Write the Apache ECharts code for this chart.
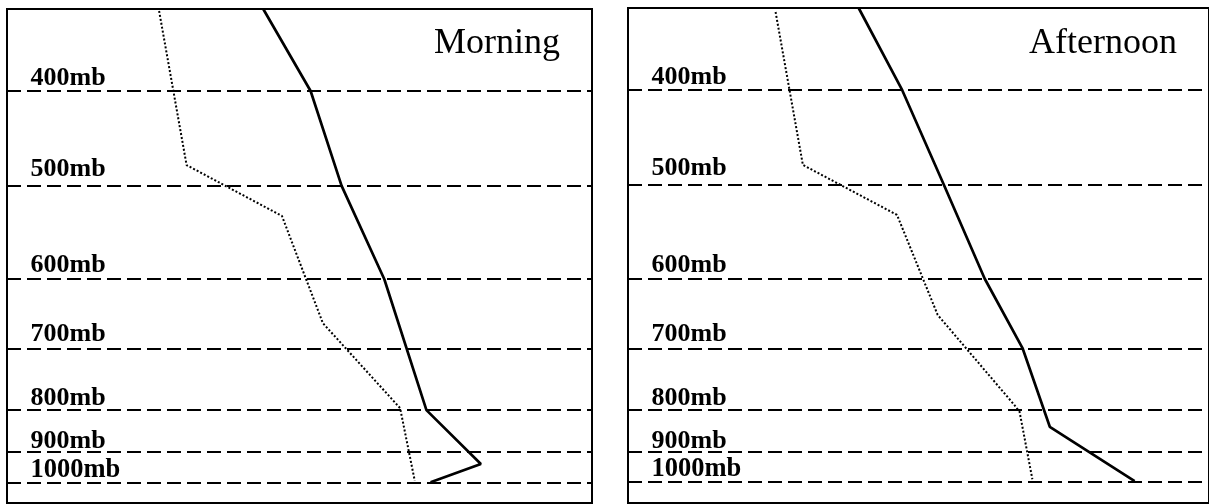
<!DOCTYPE html>
<html>
<head>
<meta charset="utf-8">
<script src="https://cdn.jsdelivr.net/npm/echarts@6/dist/echarts.min.js"></script>
<style>
  html, body { margin: 0; padding: 0; background: #fff; }
  #chart { width: 1209px; height: 504px; }
</style>
</head>
<body>
<div id="chart"></div>
<script>
// ---------- DATA (schematic units: x = temperature scale 0..100, y = height scale 0..100) ----------
const levels = ['1000mb', '900mb', '800mb', '700mb', '600mb', '500mb', '400mb'];
const levelHeight = [4.2, 10.3, 18.9, 31.2, 45.4, 64.2, 83.4];

const panelTitles = ['Morning', 'Afternoon'];

// Morning sounding: temperature (solid) and dew point (dotted), [temperature, height]
const morningTemp = [[43.8, 100], [51.9, 83.4], [57.2, 64.2], [64.5, 45.3], [71.7, 18.8], [81.0, 7.9], [72.4, 4.2]];
const morningDew  = [[26.0, 99.6], [30.7, 68.4], [47.0, 58.1], [54.0, 36.4], [67.2, 19.2], [69.7, 4.5]];

// Afternoon sounding
const afternoonTemp = [[39.7, 100], [47.2, 83.4], [54.4, 64.2], [61.4, 45.3], [67.9, 31.3], [72.6, 15.4], [87.2, 4.4]];
const afternoonDew  = [[25.4, 99.2], [30.1, 68.3], [46.3, 58.2], [53.3, 38.0], [66.5, 19.8], [67.4, 18.4], [69.6, 4.8]];

// ---------- STYLE ----------
const serif = '"Liberation Serif", "Times New Roman", serif';
const labelGap = [4, 2, 3, 6, 5, 8, 4];      // px between label baseline and its line
const labelSize = [26.5, 26, 26, 26, 26, 26, 26];
const grids = [
  { left: 7,   top: 9, width: 585, height: 494 },
  { left: 628, top: 8, width: 585, height: 495 }
];
const titlePos = [{ right: 649 }, { right: 32 }];

const chart = echarts.init(document.getElementById('chart'), null, { renderer: 'canvas' });

const series = [];
const soundings = [[morningTemp, morningDew], [afternoonTemp, afternoonDew]];
soundings.forEach(function (s, gi) {
  series.push({
    type: 'line', xAxisIndex: gi, yAxisIndex: gi,
    data: s[0], symbol: 'none', smooth: false,
    lineStyle: { color: '#000', width: 2.7 },
    markLine: {
      silent: true, symbol: 'none', animation: false,
      label: { show: false },
      lineStyle: { color: '#000', width: 2, type: [14, 6] },
      data: levelHeight.map(function (h) { return { yAxis: h }; })
    },
    z: 3
  });
  series.push({
    type: 'line', xAxisIndex: gi, yAxisIndex: gi,
    data: s[1], symbol: 'none', smooth: false,
    lineStyle: { color: '#000', width: 2, type: [2, 2], cap: 'butt' },
    z: 3
  });
  series.push({
    type: 'scatter', xAxisIndex: gi, yAxisIndex: gi,
    symbolSize: 1, itemStyle: { color: 'rgba(0,0,0,0)', opacity: 1 }, silent: true,
    data: levels.map(function (n, i) {
      return {
        name: n, value: [0, levelHeight[i]],
        label: {
          fontSize: labelSize[i],
          offset: [0, -(labelGap[i] + 0.305 * labelSize[i])]
        }
      };
    }),
    label: {
      show: true, position: [24, 0], align: 'left', verticalAlign: 'middle',
      formatter: '{b}', color: '#000', opacity: 1, fontFamily: serif, fontWeight: 'bold'
    },
    emphasis: { disabled: true },
    z: 4
  });
});

chart.setOption({
  animation: false,
  backgroundColor: '#fff',
  title: panelTitles.map(function (t, i) {
    return Object.assign({
      text: t, top: 26, padding: 0,
      textStyle: { fontFamily: serif, fontWeight: 'normal', fontSize: 36, color: '#000' }
    }, titlePos[i]);
  }),
  grid: grids.map(function (g) {
    return Object.assign({ show: true, borderColor: '#000', borderWidth: 2, backgroundColor: 'transparent' }, g);
  }),
  xAxis: [0, 1].map(function (i) {
    return { gridIndex: i, type: 'value', min: 0, max: 100, show: false };
  }),
  yAxis: [0, 1].map(function (i) {
    return { gridIndex: i, type: 'value', min: 0, max: 100, show: false };
  }),
  series: series
});
</script>
</body>
</html>
